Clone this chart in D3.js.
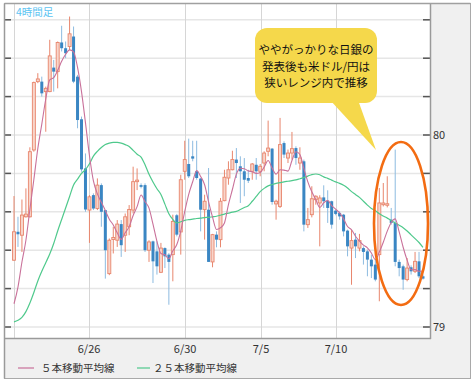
<!DOCTYPE html>
<html>
<head>
<meta charset="utf-8">
<script src="https://cdn.jsdelivr.net/npm/d3@7"></script>
<style>
  html, body { margin: 0; padding: 0; background: #fff; }
  svg { display: block; font-family: "Noto Sans CJK JP", "Noto Sans", sans-serif; }
</style>
</head>
<body>
<svg id="chart" width="475" height="387"></svg>
<script>
// ======================
// Dades: espelmes de 4 hores (USD/JPY)
// ======================
const opens = [
  79.348, 79.496, 79.478, 79.574, 79.574, 79.922, 80.278, 80.278, 80.226, 80.226,
  80.351, 80.330, 80.482, 80.452, 80.461, 80.513, 80.304, 80.082, 79.826, 79.609,
  79.687, 79.617, 79.739, 79.609, 79.278, 79.456, 79.452, 79.536, 79.478, 79.522,
  79.609, 79.757, 79.739, 79.739, 79.400, 79.446, 79.394, 79.285, 79.411, 79.377,
  79.377, 79.582, 79.495, 79.811, 79.849, 79.889, 79.811, 79.773, 79.611, 79.611,
  79.339, 79.481, 79.455, 79.658, 79.776, 79.819, 79.872, 79.837, 79.811, 79.776,
  79.811, 79.845, 79.811, 79.854, 79.915, 79.929, 79.641, 79.628, 79.958, 79.880,
  79.906, 79.932, 79.854, 79.863, 79.533, 79.585, 79.663, 79.646, 79.675, 79.658,
  79.655, 79.606, 79.594, 79.585, 79.502, 79.411, 79.455, 79.411, 79.411, 79.394,
  79.351, 79.325, 79.377, 79.637, 79.634, 79.559, 79.542, 79.339, 79.316, 79.247,
  79.311, 79.290, 79.342, 79.264
];
const highs = [
  79.682, 79.574, 79.664, 79.722, 79.936, 80.278, 80.322, 80.304, 80.252, 80.496,
  80.391, 80.487, 80.569, 80.487, 80.617, 80.565, 80.313, 80.096, 79.904, 79.687,
  79.696, 79.774, 79.748, 79.609, 79.461, 79.522, 79.557, 79.557, 79.591, 79.635,
  79.835, 79.826, 79.748, 79.748, 79.452, 79.450, 79.446, 79.438, 79.415, 79.385,
  79.585, 79.589, 79.793, 79.970, 79.981, 79.970, 79.970, 79.776, 79.689, 79.828,
  79.485, 79.498, 79.672, 79.819, 79.863, 79.918, 79.932, 79.889, 79.880, 79.819,
  79.854, 79.880, 79.849, 79.915, 80.075, 79.932, 79.663, 80.089, 79.967, 79.924,
  80.016, 79.941, 79.936, 79.872, 79.620, 79.733, 79.686, 79.686, 79.738, 79.712,
  79.658, 79.611, 79.602, 79.589, 79.507, 79.507, 79.490, 79.485, 79.420, 79.403,
  79.377, 79.351, 79.724, 79.750, 79.785, 79.620, 79.924, 79.351, 79.325, 79.359,
  79.321, 79.391, 79.391, 79.273
];
const lows = [
  79.344, 79.417, 79.391, 79.570, 79.570, 79.913, 80.270, 80.200, 80.017, 80.223,
  80.226, 80.243, 80.435, 80.400, 80.443, 80.270, 80.035, 79.809, 79.600, 79.438,
  79.609, 79.609, 79.522, 79.252, 79.270, 79.383, 79.417, 79.365, 79.391, 79.478,
  79.591, 79.713, 79.722, 79.391, 79.339, 79.229, 79.273, 79.281, 79.307, 79.116,
  79.238, 79.472, 79.377, 79.767, 79.776, 79.863, 79.767, 79.498, 79.455, 79.339,
  79.311, 79.415, 79.415, 79.655, 79.741, 79.816, 79.776, 79.646, 79.681, 79.750,
  79.767, 79.767, 79.785, 79.811, 79.889, 79.637, 79.559, 79.620, 79.880, 79.854,
  79.872, 79.845, 79.819, 79.498, 79.516, 79.571, 79.637, 79.420, 79.620, 79.542,
  79.512, 79.582, 79.559, 79.472, 79.368, 79.220, 79.359, 79.394, 79.325, 79.264,
  79.255, 79.238, 79.134, 79.628, 79.623, 79.533, 79.316, 79.264, 79.194, 79.238,
  79.273, 79.281, 79.255, 79.247
];
const closes = [
  79.496, 79.483, 79.583, 79.588, 79.913, 80.273, 80.292, 80.217, 80.243, 80.412,
  80.330, 80.482, 80.452, 80.426, 80.527, 80.278, 80.078, 79.821, 79.612, 79.678,
  79.617, 79.739, 79.600, 79.400, 79.452, 79.466, 79.536, 79.426, 79.574, 79.612,
  79.757, 79.765, 79.730, 79.400, 79.443, 79.342, 79.316, 79.411, 79.368, 79.339,
  79.550, 79.481, 79.767, 79.872, 79.785, 79.877, 79.776, 79.611, 79.655, 79.339,
  79.481, 79.455, 79.655, 79.780, 79.819, 79.872, 79.854, 79.811, 79.767, 79.762,
  79.849, 79.811, 79.837, 79.906, 79.932, 79.651, 79.655, 79.950, 79.898, 79.906,
  79.929, 79.880, 79.880, 79.533, 79.559, 79.668, 79.681, 79.672, 79.655, 79.620,
  79.533, 79.589, 79.576, 79.498, 79.420, 79.450, 79.420, 79.450, 79.391, 79.351,
  79.316, 79.247, 79.646, 79.646, 79.642, 79.542, 79.339, 79.307, 79.247, 79.307,
  79.290, 79.342, 79.264, 79.252
];
// tancaments anteriors (per la mitjana de 5)
const prevCloses = [79.05, 78.93, 79.02, 79.11];

// mitjana mòbil de 25 (llegida del gràfic)
const ma25 = [
  79.027, 79.035, 79.050, 79.080, 79.125, 79.180, 79.240, 79.290, 79.335, 79.380,
  79.435, 79.500, 79.560, 79.620, 79.680, 79.740, 79.770, 79.800, 79.820, 79.850,
  79.890, 79.915, 79.935, 79.950, 79.958, 79.962, 79.962, 79.958, 79.950, 79.940,
  79.920, 79.900, 79.885, 79.845, 79.795, 79.755, 79.720, 79.690, 79.640, 79.590,
  79.560, 79.542, 79.548, 79.555, 79.559, 79.562, 79.565, 79.567, 79.570, 79.571,
  79.574, 79.577, 79.582, 79.588, 79.593, 79.598, 79.602, 79.612, 79.622, 79.632,
  79.655, 79.680, 79.705, 79.722, 79.735, 79.742, 79.748, 79.752, 79.756, 79.759,
  79.762, 79.766, 79.772, 79.778, 79.786, 79.794, 79.797, 79.793, 79.782, 79.774,
  79.765, 79.756, 79.748, 79.738, 79.724, 79.705, 79.690, 79.675, 79.655, 79.635,
  79.617, 79.605, 79.590, 79.578, 79.567, 79.555, 79.542, 79.530, 79.517, 79.500,
  79.480, 79.460, 79.440, 79.415
];

const yTicks = [79.0, 79.2, 79.4, 79.6, 79.8, 80.0, 80.2, 80.4, 80.6];
const yLabels = [79, 80];
const dateTickIdx = [0, 18.9, 43.1, 62.2, 81.1];
const dateLabels = ["", "6/26", "6/30", "7/5", "7/10"];
const legendNames = ["５本移動平均線", "２５本移動平均線"];
const calloutLines = ["ややがっかりな日銀の", "発表後も米ドル/円は", "狭いレンジ内で推移"];
const frameLabel = "4時間足";

// ======================
// Colors
// ======================
const upStroke = "#e8866d", upFill = "#f8d5ca";
const downFill = "#3a86c3", downWick = "#8dbbe0";
const ma5Color = "#c9719a", ma25Color = "#4fc98c";

const svg = d3.select("#chart");

const plot = { left: 5, right: 430, top: 4, bottom: 338 };

const x = d3.scaleLinear().domain([0, closes.length - 1]).range([14, 423]);
const y = d3.scaleLinear().domain([79, 80]).range([327, 135]);

// =========================
// Frame
// =========================
svg.append("rect")
  .attr("x", 4.5).attr("y", 3.5)
  .attr("width", 466).attr("height", 375)
  .attr("fill", "#f0f0f0")
  .attr("stroke", "#a9a9a9");

svg.append("rect")
  .attr("x", plot.left).attr("y", plot.top)
  .attr("width", plot.right - plot.left)
  .attr("height", plot.bottom - plot.top)
  .attr("fill", "#fff");

// gridlines
svg.append("g").selectAll("line")
  .data(yTicks)
  .enter().append("line")
  .attr("x1", plot.left).attr("x2", plot.right)
  .attr("y1", d => y(d)).attr("y2", d => y(d))
  .attr("stroke", "#e6e6e6")
  .attr("stroke-width", 1.5);

svg.append("g").selectAll("line")
  .data(dateTickIdx)
  .enter().append("line")
  .attr("x1", d => Math.round(x(d)) + 0.5).attr("x2", d => Math.round(x(d)) + 0.5)
  .attr("y1", plot.top).attr("y2", plot.bottom)
  .attr("stroke", "#d6d6d6");

// ticks
svg.append("g").selectAll("line")
  .data(yTicks)
  .enter().append("line")
  .attr("x1", plot.left).attr("x2", plot.left + 6)
  .attr("y1", d => y(d)).attr("y2", d => y(d))
  .attr("stroke", "#555").attr("stroke-width", 1.5);

svg.append("g").selectAll("line")
  .data(yTicks)
  .enter().append("line")
  .attr("x1", plot.right - 7).attr("x2", plot.right)
  .attr("y1", d => y(d)).attr("y2", d => y(d))
  .attr("stroke", "#555").attr("stroke-width", 1.5);

// borders of plot
svg.append("line")
  .attr("x1", plot.right + 0.5).attr("x2", plot.right + 0.5)
  .attr("y1", plot.top).attr("y2", plot.bottom + 1)
  .attr("stroke", "#9a9a9a").attr("stroke-width", 1.5);
svg.append("line")
  .attr("x1", plot.left).attr("x2", plot.right + 1)
  .attr("y1", plot.bottom + 0.5).attr("y2", plot.bottom + 0.5)
  .attr("stroke", "#9a9a9a").attr("stroke-width", 1.5);
svg.append("line")
  .attr("x1", 4.5).attr("x2", 4.5)
  .attr("y1", 3.5).attr("y2", 378.5)
  .attr("stroke", "#9a9a9a").attr("stroke-width", 1.5);
svg.append("line")
  .attr("x1", 4.5).attr("x2", 470.5)
  .attr("y1", 3.5).attr("y2", 3.5)
  .attr("stroke", "#a0a0a0").attr("stroke-width", 1.5);

// =========================
// Candles
// =========================
const bars = closes.map((c, i) => ({ i, o: opens[i], h: highs[i], l: lows[i], c }));
const bodyW = 3;

const candle = svg.append("g").selectAll("g")
  .data(bars)
  .enter().append("g");

candle.append("line")
  .attr("x1", d => x(d.i)).attr("x2", d => x(d.i))
  .attr("y1", d => y(d.h)).attr("y2", d => y(d.l))
  .attr("stroke", d => d.c >= d.o ? upStroke : downWick)
  .attr("stroke-width", 1);

candle.append("rect")
  .attr("x", d => x(d.i) - bodyW / 2)
  .attr("y", d => y(Math.max(d.o, d.c)))
  .attr("width", bodyW)
  .attr("height", d => Math.max(1, Math.abs(y(d.o) - y(d.c))))
  .attr("fill", d => d.c >= d.o ? upFill : downFill)
  .attr("stroke", d => d.c >= d.o ? upStroke : "none")
  .attr("stroke-width", 0.9);

// =========================
// Moving averages
// =========================
const allCloses = prevCloses.concat(closes);
const ma5 = closes.map((c, i) => d3.mean(allCloses.slice(i, i + 5)));

const line = d3.line()
  .x((d, i) => x(i))
  .y(d => y(d))
  .curve(d3.curveMonotoneX);

svg.append("path")
  .datum(ma25)
  .attr("d", line)
  .attr("fill", "none")
  .attr("stroke", ma25Color)
  .attr("stroke-width", 1.2);

svg.append("path")
  .datum(ma5)
  .attr("d", line)
  .attr("fill", "none")
  .attr("stroke", ma5Color)
  .attr("stroke-width", 1.1);

// =========================
// Axis labels
// =========================
svg.append("g").selectAll("text")
  .data(yLabels)
  .enter().append("text")
  .attr("x", 433)
  .attr("y", d => y(d) + 4)
  .text(d => d)
  .style("font-size", "11px")
  .style("fill", "#333");

svg.append("g").selectAll("text")
  .data(dateTickIdx)
  .enter().append("text")
  .attr("x", d => x(d))
  .attr("y", 353)
  .attr("text-anchor", "middle")
  .text((d, i) => dateLabels[i])
  .style("font-size", "11px")
  .style("fill", "#333");

svg.append("text")
  .attr("x", 16)
  .attr("y", 16)
  .text(frameLabel)
  .style("font-size", "10.5px")
  .style("fill", "#5cc4f2");

// =========================
// Legend
// =========================
const legend = [
  { name: legendNames[0], color: ma5Color, x1: 18, x2: 34, tx: 41 },
  { name: legendNames[1], color: ma25Color, x1: 137, x2: 150, tx: 153 }
];
legend.forEach(d => {
  svg.append("line")
    .attr("x1", d.x1).attr("x2", d.x2)
    .attr("y1", 368).attr("y2", 368)
    .attr("stroke", d.color).attr("stroke-width", 1.2);
  svg.append("text")
    .attr("x", d.tx).attr("y", 372)
    .text(d.name)
    .style("font-size", "10.5px")
    .style("fill", "#333");
});

// =========================
// Annotation
// =========================
svg.append("path")
  .attr("d", "M330,100 L376,150 L358,100 Z")
  .attr("fill", "#f5d84b");
svg.append("rect")
  .attr("x", 255).attr("y", 28)
  .attr("width", 122).attr("height", 75)
  .attr("rx", 12).attr("ry", 12)
  .attr("fill", "#f5d84b");

svg.append("g").selectAll("text")
  .data(calloutLines)
  .enter().append("text")
  .attr("x", 316)
  .attr("y", (d, i) => 54 + i * 16.5)
  .attr("text-anchor", "middle")
  .text(d => d)
  .style("font-size", "11.5px")
  .style("fill", "#111");

svg.append("ellipse")
  .attr("cx", 401).attr("cy", 223.5)
  .attr("rx", 27).attr("ry", 81.5)
  .attr("fill", "none")
  .attr("stroke", "#f36c12")
  .attr("stroke-width", 2.6);
</script>
</body>
</html>
